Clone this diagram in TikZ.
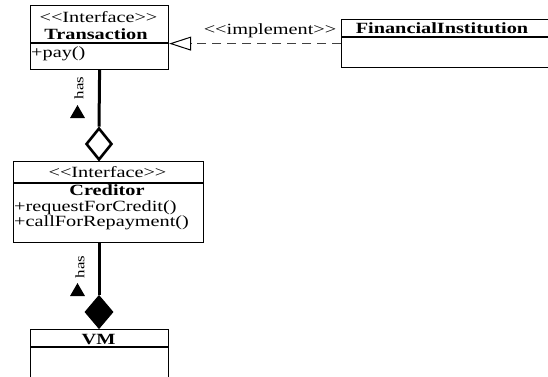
\documentclass[tikz,border=0pt]{standalone}
\usepackage{fontspec}
\setmainfont{Liberation Serif}[FakeStretch=1.3, Ligatures=TeXOff]
\usetikzlibrary{arrows.meta,shapes.geometric}

\begin{document}
\begin{tikzpicture}[x=1pt,y=-1pt,
  umlbox/.style={draw, line width=1.2pt, rectangle, inner sep=0pt, anchor=north west},
  divider/.style={line width=1.2pt},
  txt/.style={inner sep=0pt, anchor=base, font=\fontsize{15.6}{18}\selectfont},
  ltxt/.style={txt, anchor=base west},
  btxt/.style={txt, font=\fontsize{15.6}{18}\selectfont\bfseries},
  haslbl/.style={inner sep=0pt, rotate=90, font=\fontsize{13}{14}\selectfont},
  dirmark/.style={regular polygon, regular polygon sides=3, fill=black, inner sep=0pt, minimum size=17.3pt},
  assoc/.style={line width=3pt},
  aggr/.style={diamond, draw, line width=2.6pt, inner sep=0pt, minimum width=26pt, minimum height=32pt, fill=white},
  compo/.style={diamond, draw, fill=black, line width=1pt, inner sep=0pt, minimum width=28pt, minimum height=33pt},
  realize/.style={dash pattern=on 9pt off 6pt, line width=1.3pt, draw=black!75,
    -{Triangle[open, length=22pt, width=14pt, line width=1pt, color=black]}}
]
\useasboundingbox (0,0) rectangle (548,376);
\clip (0,0) rectangle (548,376);

% class boxes
\node[umlbox, minimum width=138pt, minimum height=64pt] (trans) at (30,5) {};
\node[umlbox, minimum width=220pt, minimum height=48pt] (fin) at (341,19) {};
\node[umlbox, minimum width=190pt, minimum height=81pt] (cred) at (13,161) {};
\node[umlbox, minimum width=138pt, minimum height=60pt] (vm) at (30,329) {};

% compartment dividers
\draw[divider] (trans.west |- 0,43) -- (trans.east |- 0,43);
\draw[divider] (fin.west |- 0,37) -- (fin.east |- 0,37);
\draw[divider] (cred.west |- 0,183) -- (cred.east |- 0,183);
\draw[divider] (vm.west |- 0,347) -- (vm.east |- 0,347);

% Transaction
\node[txt] (transst) at (98.5,22) {<<Interface>>};
\node[btxt] (transname) at (96,39.5) {Transaction};
\node[ltxt] (transop) at (31,57) {+pay()};

% FinancialInstitution
\node[btxt] (finname) at (442,33) {FinancialInstitution};

% Creditor
\node[txt] (credst) at (107.5,177) {<<Interface>>};
\node[btxt] (credname) at (107,195.5) {Creditor};
\node[ltxt] (credop1) at (14,211) {+requestForCredit()};
\node[ltxt] (credop2) at (14,226) {+callForRepayment()};

% VM
\node[btxt] (vmname) at (98.5,344) {VM};

% realization
\draw[realize] (fin.west) -- (trans.east |- fin.west);
\node[txt] (impl) at (270,34) {<<implement>>};

% aggregation Transaction <>-- Creditor
\node[aggr] (agg1) at (99,144) {};
\draw[assoc] (trans.south) -- (agg1.north);
\node[haslbl] (has1) at (79,88) {has};
\node[dirmark] (dir1) at (77.5,113.7) {};

% composition Creditor <*>-- VM
\node[compo] (agg2) at (99,312) {};
\draw[assoc] (agg2.north |- cred.south) -- (agg2.north);
\node[haslbl] (has2) at (80,267) {has};
\node[dirmark] (dir2) at (77.5,291.7) {};
\end{tikzpicture}
\end{document}
